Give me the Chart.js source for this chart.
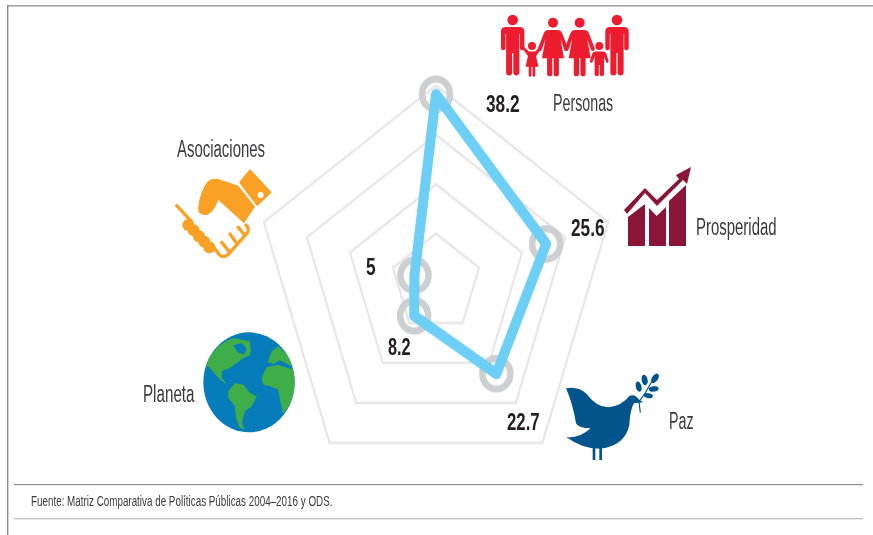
<!DOCTYPE html>
<html lang="es"><head><meta charset="utf-8">
<script src="https://cdn.jsdelivr.net/npm/chart.js@4"></script>
<style>
html,body{margin:0;padding:0;background:#fff;width:873px;height:535px;overflow:hidden}
#wrap{position:absolute;left:235px;top:81.7px;width:402px;height:402px;transform:scaleY(1.092);transform-origin:50% 50%}
#icons,#rules{position:absolute;left:0;top:0}
.t{position:absolute;white-space:nowrap;font-family:"Liberation Sans Narrow","Liberation Sans",sans-serif;color:#3a3a3c;transform-origin:0 0;line-height:1}
.v{font-weight:bold;color:#231f20}
</style></head><body>
<svg id="rules" width="873" height="535">
<rect x="7" y="5" width="866" height="1.6" fill="#a6a6a6"/>
<rect x="7" y="5" width="1.4" height="530" fill="#8c8c8c"/>
<rect x="14" y="484" width="849" height="1.2" fill="#8f8f8f"/>
<rect x="14" y="518" width="849" height="1.4" fill="#c4c4c4"/>
</svg>
<div id="wrap"><canvas id="c" width="402" height="402"></canvas></div>
<svg id="icons" width="873" height="535"></svg>
<div id="texts"></div>
<script>
const categories = ["Personas","Prosperidad","Paz","Planeta","Asociaciones"];
const values = [38.2,25.6,22.7,8.2,5];
const tickValues = [0,10,20,30,40];
const sourceNote = "Fuente: Matriz Comparativa de Políticas Públicas 2004–2016 y ODS.";

new Chart(document.getElementById('c'),{
  type:'radar',
  data:{labels:categories,datasets:[
    {data:values,fill:false,borderColor:'#6dcff6',borderWidth:10,borderJoinStyle:'round',pointRadius:0,tension:0,clip:false},
    {data:values,showLine:false,fill:false,pointRadius:14,pointBorderWidth:6.5,pointBorderColor:'#cdcfd1',pointBackgroundColor:'rgba(0,0,0,0)',clip:false}
  ]},
  options:{responsive:false,animation:false,layout:{padding:20},
    plugins:{legend:{display:false},tooltip:{enabled:false}},
    scales:{r:{min:tickValues[0],max:tickValues[tickValues.length-1],
      ticks:{display:false,stepSize:10},
      angleLines:{display:false},
      pointLabels:{display:false},
      grid:{color:'#e6e6e6',lineWidth:2.2}}}}
});

/* text layout, kept apart from the data */
const catLayout=[[553,91.5,23,.62],[696,215.5,23,.65],[669,409.5,23,.62],[143,383,23,.66],[177,137.5,23,.65]];
const valLayout=[[486,92.5,23,.75],[571,216.5,23,.75],[507,410.5,23,.73],[388,335.5,23,.71],[366,255.5,23,.75]];
const texts=document.getElementById('texts');
function addText(s,l,cls){const d=document.createElement('div');d.className='t '+(cls||'');d.textContent=s;
  d.style.left=l[0]+'px';d.style.top=l[1]+'px';d.style.fontSize=l[2]+'px';d.style.transform='scaleX('+l[3]+')';texts.appendChild(d);}
categories.forEach((c,i)=>addText(c,catLayout[i]));
values.forEach((v,i)=>addText(String(v),valLayout[i],'v'));
addText(sourceNote,[31,492.5,15.5,.635]);

/* decorative icons */
const man='M-7,7H7Q11.7,7 11.7,11.5V28a2.25,2.25 0 0 1-4.5,0V14H6.6V53.5a3.2,3.2 0 0 1-6,0V33H-.6V53.5a3.2,3.2 0 0 1-6,0V14H-7.2V28a2.25,2.25 0 0 1-4.5,0V11.5Q-11.7,7-7,7Z';
const woman='M-5,7.3H5Q8,7.3 9,10L15,25.5a2,2 0 0 1-3.8,1.3L7.5,16 11,35.6H5.9V51a2.6,2.6 0 0 1-5.2,0V35.6H-.7V51a2.6,2.6 0 0 1-5.2,0V35.6H-11L-7.5,16-11.2,26.8a2,2 0 0 1-3.8-1.3L-9,10Q-8,7.3-5,7.3Z';
const girl='M-3,5.5H3L8.5,.5 10,2 4,10 6.5,20.7H3.3V30a1.6,1.6 0 0 1-2.8,0V20.7H-.5V30a1.6,1.6 0 0 1-2.8,0V20.7H-6.5L-4,10-10,2-8.5,.5Z';
const boy='M-4,5.5H4Q6,5.5 7,7.5L9.3,15a1.4,1.4 0 0 1-2.7,.8L4.7,10.5V28.5a2.2,2.2 0 0 1-4.3,0V19H-.4V28.5a2.2,2.2 0 0 1-4.3,0V10.5L-6.6,15.8A1.4,1.4 0 0 1-9.3,15L-7,7.5Q-6,5.5-4,5.5Z';
const red='#ed1c2e';
const person=(d,x,y,r)=>`<g transform="translate(${x},${y})" fill="${red}"><circle r="${r}"/><path d="${d}"/></g>`;
const globe=`<g transform="translate(200,328) scale(.3333)"><clipPath id="gc"><ellipse cx="147" cy="163" rx="137" ry="150"/></clipPath>
<ellipse cx="147" cy="163" rx="137" ry="150" fill="#067cba"/>
<g clip-path="url(#gc)" fill="#3fae49">
<path d="M10,110 L30,85 L55,55 L80,38 L100,30 L150,40 L152,65 L150,82 L130,90 L110,105 L90,120 L65,130 L65,150 L82,170 L60,155 L42,135 L28,118 Z"/>
<path d="M85,190 L105,165 L130,170 L150,195 L170,205 L155,235 L135,250 L125,285 L135,303 L120,300 L108,270 L105,235 L85,210Z"/>
<path d="M185,150 L200,118 L235,110 L262,120 L290,125 L290,175 L270,230 L250,258 L240,215 L235,185 L210,175 L190,170Z"/>
<path d="M203,103 L215,70 L235,55 L265,85 L285,120 L240,97 L220,108Z"/>
</g><path d="M100,52 L125,45 L140,62 L132,80 L112,72Z" fill="#067cba"/></g>`;
const orange='#faa024';
const handshake=`<g transform="translate(170,165) scale(.3333)" fill="${orange}">
<path d="M240,18L300,82 262,118 212,52Z" stroke="${orange}" stroke-width="8" stroke-linejoin="round"/>
<circle cx="272" cy="90" r="9" fill="#fff"/>
<path d="M85,125 Q90,80 112,50 Q125,38 145,42 L205,62 L255,125 L222,175 L145,105 Q130,145 110,150 Q80,150 85,125Z"/>
<g stroke="${orange}" stroke-width="10" stroke-linecap="round" stroke-linejoin="round" fill="none">
<path d="M228,180 Q242,195 228,208 L175,268 Q160,282 147,268 L130,245"/>
<path d="M205,187 L222,208"/><path d="M180,207 L198,232"/><path d="M155,232 L175,257"/>
<path d="M20,122 L65,170"/></g>
<circle cx="55" cy="180" r="18"/><circle cx="71" cy="196" r="18"/><circle cx="87" cy="214" r="18"/><circle cx="103" cy="230" r="18"/><circle cx="118" cy="247" r="18"/>
</g>`;
const dove=`<g transform="translate(550,370) scale(.3333)" fill="#02558b">
<path d="M48,55 Q85,48 110,72 Q140,112 175,112 Q215,108 238,78 Q255,70 268,90 L280,97 L252,100 Q240,120 238,165 Q225,228 150,236 Q95,236 48,200 Q85,208 122,175 Q85,175 78,160 Q68,100 48,55Z"/>
<rect x="128" y="232" width="8" height="38"/><rect x="148" y="232" width="8" height="38"/>
<path d="M271,128 L267,95 L285,70 L305,35" fill="none" stroke="#02558b" stroke-width="3.5"/>
<ellipse cx="284" cy="30" rx="9" ry="16" transform="rotate(-10 284 30)"/>
<ellipse cx="266" cy="50" rx="8.5" ry="16" transform="rotate(-15 266 50)"/>
<ellipse cx="315" cy="25" rx="9" ry="16" transform="rotate(35 315 25)"/>
<ellipse cx="311" cy="57" rx="15" ry="8" transform="rotate(-10 311 57)"/>
<ellipse cx="295" cy="77" rx="14" ry="7.5" transform="rotate(10 295 77)"/></g>`;
const maroon='#8a1538';
const growth=`<g fill="${maroon}">
<path d="M628,246V217L645,204V246Z"/><path d="M649,246V208L656.7,216 666,207V246Z"/><path d="M669,246V201L686,185V246Z"/>
<path d="M624,210 L645,188 L657,200 L679,179 L676,175 L691,167 L687,184 L683,180 L657,206 L645,193 L627,214Z"/></g>`;
document.getElementById('icons').innerHTML=
  person(man,512.7,20,5.3)+person(man,617,20,5.3)+person(woman,553,22.7,5)+person(woman,579.7,22.7,5)+
  person(girl,532,46,4)+person(boy,599.3,46,4)+growth+handshake+globe+dove;
</script>
</body></html>
